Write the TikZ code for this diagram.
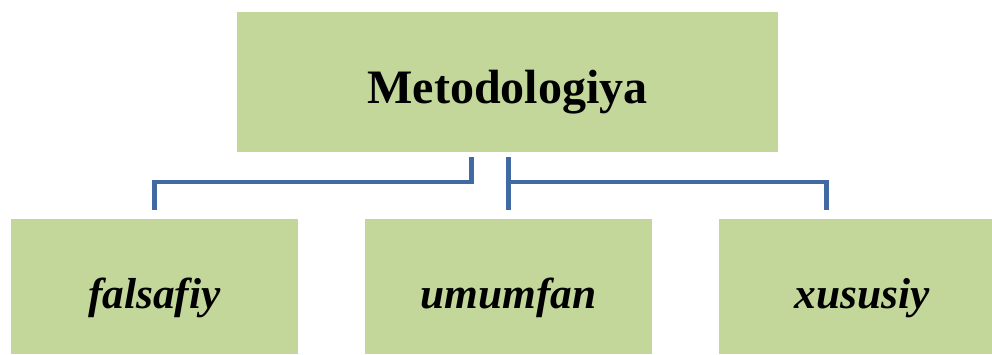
\documentclass[tikz,border=0pt]{standalone}
\usepackage{fontspec}
\setmainfont{Liberation Serif}
\usetikzlibrary{calc}

\definecolor{boxgreen}{RGB}{196,215,155}
\definecolor{linkblue}{RGB}{65,106,162}

\begin{document}
\begin{tikzpicture}[x=0.03cm, y=-0.03cm,
    box/.style={fill=boxgreen, inner sep=0pt, minimum height=4.05cm, text height=1.3cm, text depth=0cm},
    link/.style={draw=linkblue, line width=0.13cm}]
    \useasboundingbox (0,0) rectangle (992,354);

    \node[box, minimum width=16.2cm, minimum height=4.2cm] (meto) at (507.5,82)
        {\fontsize{41}{48}\selectfont\bfseries Metodologiya};

    \node[box, minimum width=8.61cm] (falsafiy) at (154.5,286.5) {\fontsize{37}{44}\selectfont\bfseries\itshape falsafiy};
    \node[box, minimum width=8.61cm] (umumfan)  at (508.5,286.5) {\fontsize{37}{44}\selectfont\bfseries\itshape umumfan};
    \node[box, minimum width=8.19cm] (xususiy)  at (855.5,286.5) {\hspace{0.4cm}\fontsize{37}{44}\selectfont\bfseries\itshape xususiy};

    \coordinate (bar) at ($(meto.south)+(1,5)$);
    \draw[link] ($(meto.south)+(-36,5)$) |- ($(falsafiy.north)+(0,-37)$) -- ($(falsafiy.north)+(0,-9)$);
    \draw[link] (bar) -- (bar |- {$(umumfan.north)+(0,-9)$});
    \draw[link] (bar |- {$(falsafiy.north)+(0,-37)$}) -| ($(xususiy.north)+(-29,-9)$);
\end{tikzpicture}
\end{document}
